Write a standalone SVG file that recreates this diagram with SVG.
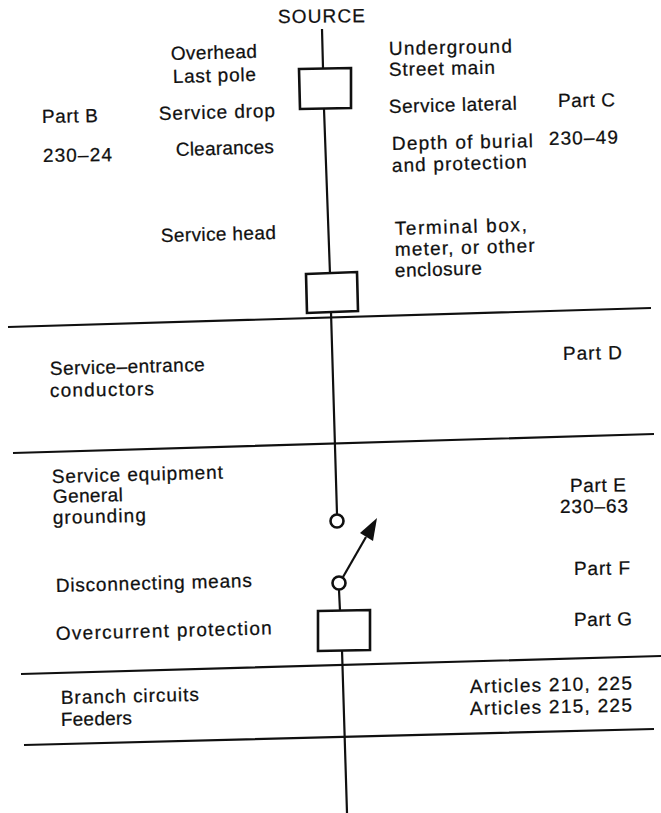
<svg xmlns="http://www.w3.org/2000/svg" width="661" height="813" viewBox="0 0 661 813">
<style>
text{font-family:"Liberation Sans",Arial,sans-serif;font-size:19px;fill:#101010;stroke:#101010;stroke-width:.25}
.l{stroke:#101010;stroke-width:2.2;fill:none}
.b{stroke:#101010;stroke-width:2.6;fill:#fff}
</style>
<rect width="661" height="813" fill="#fff"/>
<g id="connectors">
<path class="l" d="M322 29L323 68M324 109L330 274M331 312L337 514M339 590L340 611M342 650L347 813"/>
<path class="l" d="M8 327L651 308M13 453L654 434M21 674L661 656M24 745L654 729"/>
<path class="l" d="M343 577L366 537"/>
<polygon points="377,518 373,541 360,533" fill="#101010"/>
</g>
<g id="box1"><path class="b" d="M299 69L351 68L351 108L300 109Z"/></g>
<g id="box2"><path class="b" d="M306 274L357 272L358 311L307 313Z"/></g>
<g id="box3"><path class="b" d="M318 611L370 610L370 650L318 651Z"/></g>
<g id="contact1"><circle class="b" cx="337" cy="521" r="6.5"/></g>
<g id="contact2"><circle class="b" cx="339" cy="583" r="6.5"/></g>
<g id="labels">
<text x="278" y="23" textLength="87" transform="rotate(-0.5 278 23)">SOURCE</text>
<text x="171" y="60" textLength="86" transform="rotate(-1.5 171 60)">Overhead</text>
<text x="173" y="83" textLength="83" transform="rotate(-1.5 173 83)">Last pole</text>
<text x="389" y="55" textLength="123" transform="rotate(-1.2 389 55)">Underground</text>
<text x="389" y="76" textLength="106" transform="rotate(-1.2 389 76)">Street main</text>
<text x="42" y="123" textLength="56" transform="rotate(-1 42 123)">Part B</text>
<text x="159" y="120" textLength="116" transform="rotate(-1.5 159 120)">Service drop</text>
<text x="389" y="113" textLength="128" transform="rotate(-1.5 389 113)">Service lateral</text>
<text x="558" y="107" textLength="57" transform="rotate(-0.5 558 107)">Part C</text>
<text x="43" y="162" textLength="69" transform="rotate(-0.8 43 162)">230–24</text>
<text x="176" y="156" textLength="98" transform="rotate(-1.7 176 156)">Clearances</text>
<text x="392" y="150" textLength="141" transform="rotate(-1.2 392 150)">Depth of burial</text>
<text x="392" y="172" textLength="135" transform="rotate(-1.7 392 172)">and protection</text>
<text x="549" y="145" textLength="69" transform="rotate(-1.2 549 145)">230–49</text>
<text x="161" y="242" textLength="115" transform="rotate(-1.5 161 242)">Service head</text>
<text x="395" y="235" textLength="132" transform="rotate(-1.7 395 235)">Terminal box,</text>
<text x="395" y="256" textLength="140" transform="rotate(-1.7 395 256)">meter, or other</text>
<text x="395" y="277" textLength="87" transform="rotate(-1.7 395 277)">enclosure</text>
<text x="50" y="375" textLength="155" transform="rotate(-1.5 50 375)">Service–entrance</text>
<text x="50" y="397" textLength="104" transform="rotate(-1 50 397)">conductors</text>
<text x="563" y="360" textLength="59" transform="rotate(-1 563 360)">Part D</text>
<text x="52" y="483" textLength="171" transform="rotate(-1.5 52 483)">Service equipment</text>
<text x="53" y="503" textLength="70" transform="rotate(-1.5 53 503)">General</text>
<text x="53" y="524" textLength="93" transform="rotate(-1.5 53 524)">grounding</text>
<text x="570" y="492" textLength="56" transform="rotate(-0.5 570 492)">Part E</text>
<text x="560" y="513" textLength="68" transform="rotate(-0.5 560 513)">230–63</text>
<text x="56" y="592" textLength="196" transform="rotate(-1.5 56 592)">Disconnecting means</text>
<text x="574" y="575" textLength="56" transform="rotate(-0.5 574 575)">Part F</text>
<text x="56" y="640" textLength="216" transform="rotate(-1.5 56 640)">Overcurrent protection</text>
<text x="574" y="626" textLength="58" transform="rotate(-0.5 574 626)">Part G</text>
<text x="470" y="693" textLength="162" transform="rotate(-1.2 470 693)">Articles 210, 225</text>
<text x="470" y="715" textLength="162" transform="rotate(-1.2 470 715)">Articles 215, 225</text>
<text x="61" y="704" textLength="138" transform="rotate(-1.3 61 704)">Branch circuits</text>
<text x="61" y="726" textLength="71" transform="rotate(-1.3 61 726)">Feeders</text>
</g>
</svg>
